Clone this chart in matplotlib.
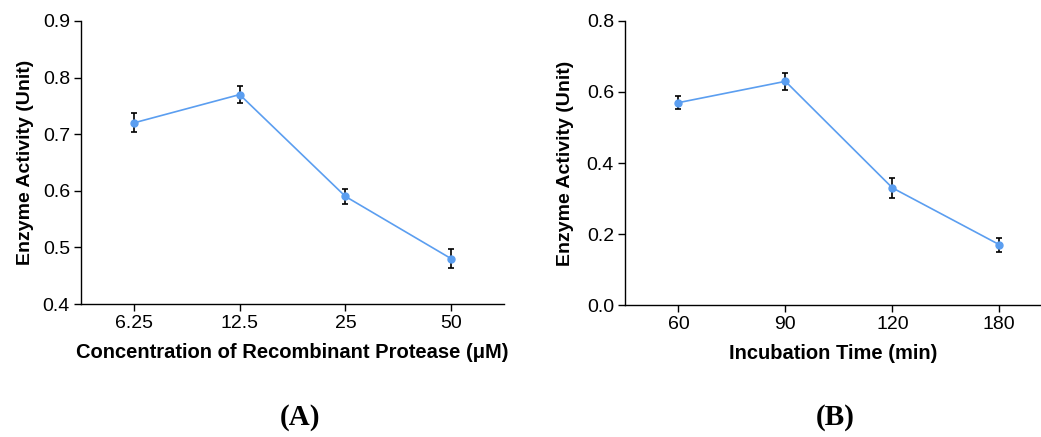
import matplotlib
matplotlib.use("Agg")
import matplotlib.pyplot as plt

# Panel A: enzyme activity vs. protease concentration
conc_labels = ["6.25", "12.5", "25", "50"]
conc_activity = [0.72, 0.77, 0.59, 0.48]
conc_err = [0.017, 0.015, 0.014, 0.017]

# Panel B: enzyme activity vs. incubation time
time_labels = ["60", "90", "120", "180"]
time_activity = [0.57, 0.63, 0.33, 0.17]
time_err = [0.018, 0.023, 0.028, 0.020]

plt.rcParams["font.family"] = ["Liberation Sans", "DejaVu Sans"]

fig = plt.figure(figsize=(10.41, 4.37), dpi=100)
axA = fig.add_axes([0.0778, 0.3043, 0.4065, 0.6477])
axB = fig.add_axes([0.6004, 0.3020, 0.3996, 0.6500])

line_color = "#5b9ef0"


def draw_panel(ax, labels, values, errs, ylim, yticks, xlim, xlabel, ypad):
    xs = list(range(len(labels)))
    ax.plot(xs, values, color=line_color, lw=1.2, zorder=2)
    ax.errorbar(xs, values, yerr=errs, fmt="none", ecolor="black",
                elinewidth=1.2, capsize=2.5, capthick=1.2, zorder=3)
    ax.plot(xs, values, "o", color=line_color, ms=5, zorder=4)
    ax.set_xlim(*xlim)
    ax.set_ylim(*ylim)
    ax.set_xticks(xs)
    ax.set_xticklabels(labels)
    ax.set_yticks(yticks)
    ax.spines["top"].set_visible(False)
    ax.spines["right"].set_visible(False)
    for s in ("left", "bottom"):
        ax.spines[s].set_linewidth(1.0)
    ax.tick_params(direction="out", length=5, width=1.0, labelsize=14, pad=3)
    ax.set_ylabel("Enzyme Activity (Unit)", fontsize=14, fontweight="bold",
                  labelpad=ypad)
    ax.set_xlabel(xlabel, fontsize=14.5, fontweight="bold", labelpad=8)


draw_panel(axA, conc_labels, conc_activity, conc_err, (0.4, 0.9),
           [0.4, 0.5, 0.6, 0.7, 0.8, 0.9], (-0.5, 3.5),
           "Concentration of Recombinant Protease (\u03bcM)", 6)
axA.set_yticklabels(["0.4", "0.5", "0.6", "0.7", "0.8", "0.9"])

draw_panel(axB, time_labels, time_activity, time_err, (0.0, 0.8),
           [0.0, 0.2, 0.4, 0.6, 0.8], (-0.5, 3.39),
           "Incubation Time (min)", 9)
axB.set_yticklabels(["0.0", "0.2", "0.4", "0.6", "0.8"])

fig.text(0.288, 0.045, "(A)", ha="center", va="center", fontsize=21,
         fontweight="bold", family=["Liberation Serif", "DejaVu Serif"])
fig.text(0.802, 0.045, "(B)", ha="center", va="center", fontsize=21,
         fontweight="bold", family=["Liberation Serif", "DejaVu Serif"])

fig.savefig("out.png", dpi=100)
